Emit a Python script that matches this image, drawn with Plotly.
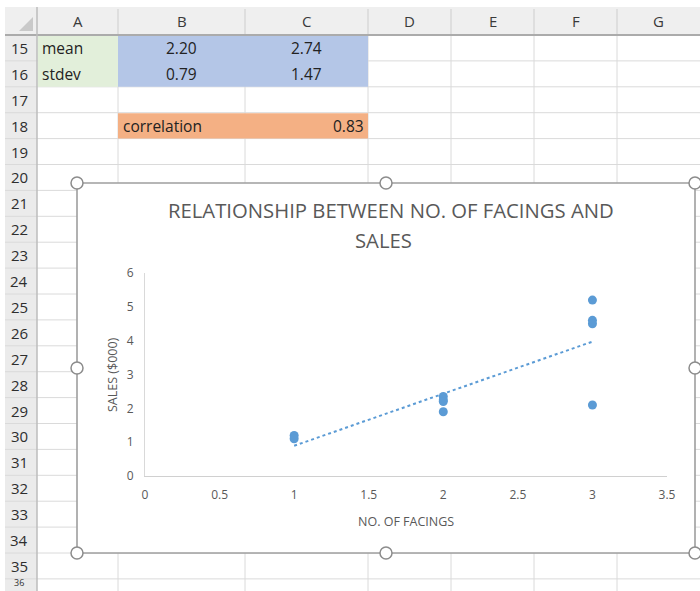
import numpy as np
import plotly.graph_objects as go

# ---------------- data ----------------
facings = [1, 1, 2, 2, 2, 2, 3, 3, 3, 3]
sales = [1.2, 1.1, 2.35, 2.25, 2.2, 1.9, 5.2, 4.6, 4.5, 2.1]

x_ticks = [0, 0.5, 1, 1.5, 2, 2.5, 3, 3.5]
y_ticks = [0, 1, 2, 3, 4, 5, 6]

col_letters = ["A", "B", "C", "D", "E", "F", "G"]
row_numbers = list(range(15, 37))

stat_labels = ["mean", "stdev"]
stat_facings = ["2.20", "0.79"]
stat_sales = ["2.74", "1.47"]
corr_label = "correlation"
corr_value = "0.83"

title_lines = ["RELATIONSHIP BETWEEN NO. OF FACINGS AND", "SALES"]
x_title = "NO. OF FACINGS"
y_title = "SALES ($000)"

# ---------------- geometry helpers (pixels -> paper) ----------------
W, H = 700, 591
def px(x):
    return x / W
def py(y):
    return 1 - y / H

FONT = "Open Sans"
col_edges = [37, 118, 245, 368, 451, 534, 617, 700]
ROW_TOP, ROW_H = 35, 25.9
def row_y(i):
    return ROW_TOP + (i - 15) * ROW_H

shapes = []
def rect(x0, y0, x1, y1, fill, line=None, lw=0):
    shapes.append(dict(type="rect", xref="paper", yref="paper",
                       x0=px(x0), x1=px(x1), y0=py(y1), y1=py(y0),
                       fillcolor=fill, line=dict(color=line or fill, width=lw),
                       layer="below"))
def hline(x0, x1, y, color, w=1):
    shapes.append(dict(type="line", xref="paper", yref="paper",
                       x0=px(x0), x1=px(x1), y0=py(y), y1=py(y),
                       line=dict(color=color, width=w), layer="below"))
def vline(x, y0, y1, color, w=1):
    shapes.append(dict(type="line", xref="paper", yref="paper",
                       x0=px(x), x1=px(x), y0=py(y0), y1=py(y1),
                       line=dict(color=color, width=w), layer="below"))

# headers background
rect(5, 7, 700, 35, "#EFEFEF")
rect(5, 35, 37, 591, "#EBEBEB")

# grid lines
GRID = "#DADADA"
for i in range(15, 37):
    hline(5, 700, row_y(i), GRID, 1)
for x in col_edges[1:-1]:
    vline(x, 35, 591, GRID, 1)
for x in col_edges[1:-1]:
    vline(x, 9, 35, "#CDCDCD", 1)

# filled cells (hide gridlines)
rect(37.5, row_y(15) + 0.5, 118, row_y(17), "#E2EFDA")
rect(118, row_y(15) + 0.5, 368, row_y(17), "#B4C6E7")
rect(118, row_y(18) + 0.5, 368, row_y(19), "#F4B084")

# header borders
hline(5, 700, 35, "#ABABAB", 2)
vline(37, 7, 591, "#BDBDBD", 1.5)
# corner triangle
shapes.append(dict(type="path", xref="paper", yref="paper",
                   path=f"M {px(33)} {py(17)} L {px(33)} {py(31)} L {px(19)} {py(31)} Z",
                   fillcolor="#C9C9C9", line=dict(width=0), layer="below"))

# chart box
rect(77, 183, 695, 553, "#FFFFFF", "#9E9E9E", 1.6)
for hx, hy in [(77, 183), (386, 183), (695, 183), (77, 368), (695, 368),
               (77, 553), (386, 553), (695, 553)]:
    shapes.append(dict(type="circle", xref="paper", yref="paper",
                       x0=px(hx - 6), x1=px(hx + 6), y0=py(hy + 6), y1=py(hy - 6),
                       fillcolor="#FFFFFF", line=dict(color="#8C8C8C", width=1.5),
                       layer="below"))

# ---------------- annotations ----------------
ann = []
def text(t, x, y, size=14, color="#262626", xanchor="center", angle=0, yanchor="middle"):
    ann.append(dict(text=t, x=px(x), y=py(y), xref="paper", yref="paper",
                    xanchor=xanchor, yanchor=yanchor, showarrow=False,
                    textangle=angle, font=dict(family=FONT, size=size, color=color)))

for i, c in enumerate(col_letters):
    text(c, (col_edges[i] + col_edges[i + 1]) / 2, 21, 15, "#3A3A3A")
for r in row_numbers:
    if r == 36:
        text(str(r), 19, 591, 9, "#333333", yanchor="bottom")
    else:
        text(str(r), 19, row_y(r) + ROW_H / 2, 15, "#2E2E2E")

for k in range(2):
    yc = row_y(15 + k) + ROW_H / 2
    text(stat_labels[k], 40, yc, 15.5, "#222222", "left")
    text(stat_facings[k], (118 + 245) / 2, yc, 15.5, "#222222")
    text(stat_sales[k], (245 + 368) / 2, yc, 15.5, "#222222")
yc = row_y(18) + ROW_H / 2
text(corr_label, 121, yc, 15.5, "#222222", "left")
text(corr_value, 366, yc, 15.5, "#222222", "right")

text(title_lines[0], 391, 210, 20.3, "#595959")
text(title_lines[1], 383, 240, 20.3, "#595959")
text(x_title, 406, 521, 12.5, "#595959")
text(y_title, 112, 375, 12.5, "#595959", angle=-90)

# ---------------- traces ----------------
slope, intercept = np.polyfit(facings, sales, 1)
tx = [min(facings), max(facings)]
ty = [slope * v + intercept for v in tx]

fig = go.Figure()
fig.add_trace(go.Scatter(x=tx, y=ty, mode="lines",
                         line=dict(color="#5B9BD5", width=2, dash="dot"),
                         showlegend=False, hoverinfo="skip"))
fig.add_trace(go.Scatter(x=facings, y=sales, mode="markers",
                         marker=dict(color="#5B9BD5", size=9),
                         showlegend=False))

axis_font = dict(family=FONT, size=12, color="#595959")
fig.update_layout(
    width=W, height=H, autosize=False,
    margin=dict(l=0, r=0, t=0, b=0, pad=0, autoexpand=False),
    paper_bgcolor="#FFFFFF",
    plot_bgcolor="rgba(0,0,0,0)",
    shapes=shapes,
    annotations=ann,
    xaxis=dict(domain=[px(145), px(667)], range=[0, 3.5], tickvals=x_ticks,
               showgrid=False, zeroline=False, showline=True,
               linecolor="#D0D0D0", linewidth=1, ticks="outside", ticklen=8,
               tickcolor="rgba(0,0,0,0)", tickfont=axis_font, fixedrange=True,
               automargin=False),
    yaxis=dict(domain=[py(476), py(273)], range=[0, 6], tickvals=y_ticks,
               showgrid=False, zeroline=False, showline=True,
               linecolor="#D9D9D9", linewidth=1, ticks="outside", ticklen=8,
               tickcolor="rgba(0,0,0,0)", tickfont=axis_font, fixedrange=True,
               automargin=False),
)

fig.write_html("out.html", config={"displayModeBar": False, "responsive": False},
               post_script="document.body.style.margin='0';document.body.style.padding='0';")
